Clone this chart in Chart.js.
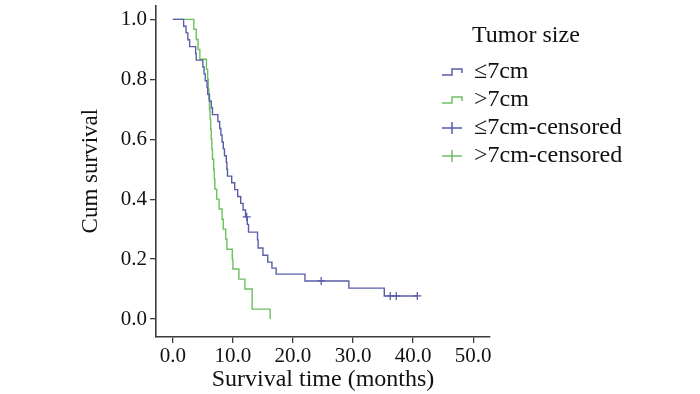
<!DOCTYPE html>
<html lang="en">
<head>
<meta charset="UTF-8">
<title>Survival by tumor size</title>
<script src="https://cdn.jsdelivr.net/npm/chart.js"></script>
<style>
    html, body { margin: 0; padding: 0; background: #fff; }
</style>
</head>
<body>
<canvas id="kmChart" width="700" height="394"></canvas>

<script>
    // <=7cm group: step times (months) and cumulative survival after each step
    const smallTime = [0, 1.8, 2.2, 2.5, 2.8, 3.8, 3.9, 5.0, 5.2, 5.4, 5.7, 5.8, 6.1, 6.4, 6.6, 7.5, 7.8, 8.0, 8.2, 8.4, 8.6, 8.9, 9.0, 9.1, 9.8, 10.3, 10.8, 11.3, 11.7, 12.1, 12.4, 12.6, 14.1, 14.2, 15.0, 15.8, 16.5, 17.2, 22.0, 29.3, 35.2, 40.7];
    const smallSurv = [1.0, 0.977, 0.955, 0.932, 0.909, 0.886, 0.864, 0.841, 0.818, 0.795, 0.773, 0.75, 0.727, 0.705, 0.682, 0.659, 0.636, 0.614, 0.591, 0.568, 0.545, 0.523, 0.5, 0.477, 0.455, 0.432, 0.409, 0.386, 0.364, 0.341, 0.316, 0.29, 0.264, 0.237, 0.213, 0.19, 0.17, 0.15, 0.127, 0.103, 0.077, 0.077];
    const smallCensorTime = [12.3, 24.7, 36.2, 37.2, 40.7];
    const smallCensorSurv = [0.341, 0.127, 0.077, 0.077, 0.077];

    // >7cm group
    const largeTime = [0, 3.5, 3.9, 4.2, 4.5, 5.6, 5.8, 5.9, 6.0, 6.1, 6.2, 6.3, 6.4, 6.5, 6.6, 6.8, 6.9, 7.0, 7.3, 7.7, 8.2, 8.4, 8.8, 9.0, 9.9, 10.0, 11.0, 12.0, 13.2, 16.2];
    const largeSurv = [1.0, 0.967, 0.933, 0.9, 0.867, 0.833, 0.8, 0.767, 0.733, 0.7, 0.667, 0.633, 0.6, 0.567, 0.533, 0.5, 0.467, 0.433, 0.4, 0.367, 0.333, 0.3, 0.267, 0.233, 0.2, 0.167, 0.133, 0.1, 0.033, 0.0];
    const largeCensorTime = [];
    const largeCensorSurv = [];

    const groupLabels = ['≤7cm', '>7cm', '≤7cm-censored', '>7cm-censored'];
    const xTicks = [0, 10, 20, 30, 40, 50];
    const yTicks = [0, 0.2, 0.4, 0.6, 0.8, 1.0];

    const azul = '#5a5ea8';
    const verde = '#6cc060';
    const eixo = '#403a3a';
    const serif = '"Liberation Serif", "Times New Roman", serif';

    function pontos(ts, ss) {
        return ts.map(function (t, i) { return { x: t, y: ss[i] }; });
    }

    // legend drawn by hand: title + step icon / cross icon
    const legendaKM = {
        id: 'legendaKM',
        afterDraw: function (chart) {
            const ctx = chart.ctx;
            const ds = chart.data.datasets;
            ctx.save();
            ctx.fillStyle = '#111';
            ctx.textBaseline = 'middle';
            ctx.textAlign = 'left';
            ctx.font = '24px ' + serif;
            ctx.fillText('Tumor size', 472, 36);

            const linhas = [72, 100, 128, 156];
            const x0 = 442;
            for (let i = 0; i < ds.length; i++) {
                const y = linhas[i];
                ctx.strokeStyle = ds[i].borderColor;
                ctx.lineWidth = 1.5;
                ctx.beginPath();
                if (ds[i].showLine) {
                    ctx.moveTo(x0, y + 3);
                    ctx.lineTo(x0 + 10, y + 3);
                    ctx.lineTo(x0 + 10, y - 3);
                    ctx.lineTo(x0 + 20, y - 3);
                    ctx.lineTo(x0 + 20, y + 1);
                } else {
                    ctx.moveTo(x0, y);
                    ctx.lineTo(x0 + 20, y);
                    ctx.moveTo(x0 + 10, y - 6);
                    ctx.lineTo(x0 + 10, y + 6);
                }
                ctx.stroke();
                ctx.fillStyle = '#111';
                ctx.fillText(ds[i].label, 474, y);
            }
            ctx.restore();
        }
    };

    const config = {
        type: 'scatter',
        data: {
            datasets: [
                {
                    label: groupLabels[0],
                    data: pontos(smallTime, smallSurv),
                    showLine: true,
                    stepped: 'before',
                    borderColor: azul,
                    borderWidth: 1.4,
                    pointRadius: 0
                },
                {
                    label: groupLabels[1],
                    data: pontos(largeTime, largeSurv),
                    showLine: true,
                    stepped: 'before',
                    borderColor: verde,
                    borderWidth: 1.4,
                    pointRadius: 0
                },
                {
                    label: groupLabels[2],
                    data: pontos(smallCensorTime, smallCensorSurv),
                    showLine: false,
                    borderColor: azul,
                    backgroundColor: azul,
                    pointStyle: 'cross',
                    pointRadius: 4,
                    pointBorderWidth: 1.3
                },
                {
                    label: groupLabels[3],
                    data: pontos(largeCensorTime, largeCensorSurv),
                    showLine: false,
                    borderColor: verde,
                    backgroundColor: verde,
                    pointStyle: 'cross',
                    pointRadius: 4,
                    pointBorderWidth: 1.3
                }
            ]
        },
        options: {
            responsive: false,
            animation: false,
            layout: { padding: { top: 5, right: 210, bottom: 0, left: 0 } },
            scales: {
                x: {
                    type: 'linear',
                    min: -2.8,
                    max: 52.8,
                    afterBuildTicks: function (scale) {
                        scale.ticks = xTicks.map(function (v) { return { value: v }; });
                    },
                    afterFit: function (scale) { scale.height = 57; },
                    ticks: {
                        color: '#111',
                        padding: 1,
                        font: { family: serif, size: 21 },
                        callback: function (v) { return Number(v).toFixed(1); }
                    },
                    grid: { drawOnChartArea: false, drawTicks: true, tickLength: 6, color: eixo, lineWidth: 1.3 },
                    border: { display: true, color: eixo, width: 1.6 },
                    title: {
                        display: true,
                        text: 'Survival time (months)',
                        color: '#111',
                        padding: { top: 0, bottom: 0 },
                        font: { family: serif, size: 24 }
                    }
                },
                y: {
                    type: 'linear',
                    min: -0.06,
                    max: 1.047,
                    afterBuildTicks: function (scale) {
                        scale.ticks = yTicks.map(function (v) { return { value: v }; });
                    },
                    afterFit: function (scale) {
                        scale.width = 156;
                        scale.paddingTop = 0;
                        scale.paddingBottom = 0;
                    },
                    ticks: {
                        color: '#111',
                        padding: 3,
                        font: { family: serif, size: 21 },
                        callback: function (v) { return Number(v).toFixed(1); }
                    },
                    grid: { drawOnChartArea: false, drawTicks: true, tickLength: 6, color: eixo, lineWidth: 1.3 },
                    border: { display: true, color: eixo, width: 1.6 },
                    title: {
                        display: true,
                        text: 'Cum survival',
                        color: '#111',
                        padding: { top: 77, bottom: 0 },
                        font: { family: serif, size: 23 }
                    }
                }
            },
            plugins: {
                legend: { display: false },
                tooltip: { enabled: false }
            }
        },
        plugins: [legendaKM]
    };

    new Chart(document.getElementById('kmChart'), config);
</script>
</body>
</html>
